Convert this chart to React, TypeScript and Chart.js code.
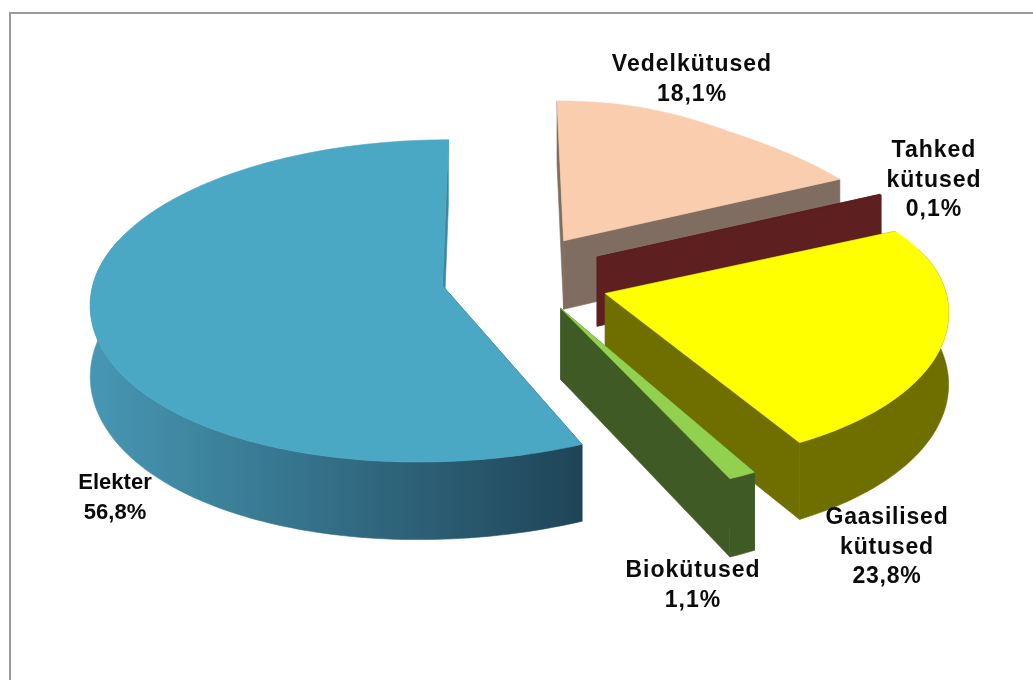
import React, { useEffect, useRef } from "react";
import { Chart, registerables } from "chart.js";

Chart.register(...registerables);

// Energy use by source, percent
const categories = ["Vedelkütused", ["Tahked", "kütused"], ["Gaasilised", "kütused"], "Biokütused", "Elekter"];
const shares = [18.1, 0.1, 23.8, 1.1, 56.8];
const explode = [86, 85, 84, 68, 58];
const topColours = ["#f9cdad", "#5e1f20", "#ffff00", "#92d050", "#4aa8c4"];
const wallLight = ["#7f6d62", "#5e1f20", "#6f6f00", "#3f5a24", "#4797b4"];
const wallDark = ["#7f6d62", "#5e1f20", "#6f6f00", "#3f5a24", "#1f4457"];

// Per-slice look of the exploded pie
const explodeTurn = [0, -4.3, 0, -11.5, 0];
const sliceScale = [1, 1, 0.96, 1.03, 0.99];
const sliceSkew = [0, 0, 0.03, -0.015, -0.045];

const labelCentres = [
  [692, 65],
  [934, 151],
  [887, 518],
  [693, 571],
  [115, 483],
];
const labelSizes = [23, 23, 23, 23, 22];
const labelTracking = [1, 1, 0.8, 1, 0];

// Oblique view of the pie plane
const VIEW = { cx: 510, cy: 279, ax: 352, ay: 160, depth: 70, persp: 0.095, backRight: 0.145 };

function project(nx: number, ny: number, d: number): [number, number] {
  const s = 1 / (1 - ny * VIEW.persp);
  // The far right of the pie recedes a little faster than the rest
  const back = Math.min(0, ny);
  const reach = Math.max(0, Math.min(1, nx / 0.8));
  const g = 1 - VIEW.backRight * back * back * reach;
  return [VIEW.cx + nx * VIEW.ax * s * g, VIEW.cy + (ny * VIEW.ay + d * VIEW.depth) * s];
}

function trace(ctx: CanvasRenderingContext2D, pts: [number, number][]) {
  ctx.beginPath();
  pts.forEach((p, i) => (i ? ctx.lineTo(p[0], p[1]) : ctx.moveTo(p[0], p[1])));
  ctx.closePath();
}

function paint(ctx: CanvasRenderingContext2D, pts: [number, number][], fill: string | CanvasGradient) {
  trace(ctx, pts);
  ctx.fillStyle = fill;
  ctx.strokeStyle = fill;
  ctx.lineWidth = 0.6;
  ctx.fill();
  ctx.stroke();
}

const extrudedPie = {
  id: "extrudedPie",
  beforeDraw(chart: any) {
    const { ctx } = chart;
    ctx.save();
    ctx.fillStyle = "#ffffff";
    ctx.fillRect(0, 0, chart.width, chart.height);
    ctx.strokeStyle = "#9a9a9a";
    ctx.lineWidth = 2;
    ctx.beginPath();
    ctx.moveTo(chart.width, 13);
    ctx.lineTo(10, 13);
    ctx.lineTo(10, chart.height);
    ctx.stroke();
    ctx.restore();
  },
  beforeDatasetDraw(chart: any) {
    const { ctx } = chart;
    const arcs = chart.getDatasetMeta(0).data;
    ctx.save();
    arcs.forEach((arc: any, i: number) => {
      const { startAngle, endAngle, outerRadius } = arc.getProps(["startAngle", "endAngle", "outerRadius"], true);
      const mid = (startAngle + endAngle) / 2 + (explodeTurn[i] * Math.PI) / 180;
      const off = (arc.options.offset || 0) / outerRadius;
      const ox = Math.cos(mid) * off;
      const oy = Math.sin(mid) * off;
      const r = sliceScale[i];
      const rim = (a: number, d: number) => {
        const ly = Math.sin(a) * r;
        const skew = ly > 0 ? sliceSkew[i] * ly * ly : 0;
        return project(ox + Math.cos(a) * r + skew, oy + ly, d);
      };
      const apex = (d: number) => project(ox, oy, d);
      const steps = Math.max(2, Math.ceil((endAngle - startAngle) / 0.02));
      const angles: number[] = [];
      for (let k = 0; k <= steps; k++) angles.push(startAngle + ((endAngle - startAngle) * k) / steps);

      const xs = angles.map((a) => rim(a, 0)[0]);
      const grad = ctx.createLinearGradient(Math.min(...xs), 0, Math.max(...xs) + 0.01, 0);
      grad.addColorStop(0, wallLight[i]);
      grad.addColorStop(1, wallDark[i]);

      // Radial cut faces
      paint(ctx, [apex(0), rim(startAngle, 0), rim(startAngle, 1), apex(1)], wallDark[i]);
      paint(ctx, [apex(0), rim(endAngle, 0), rim(endAngle, 1), apex(1)], i === 4 ? "#3f86a3" : wallDark[i]);

      // Outer curved wall, only on the part turned to the viewer
      const front = angles.filter((a) => Math.sin(a) > -0.3);
      if (front.length > 1) {
        const strip = [
          ...front.map((a) => rim(a, 0)),
          ...front.slice().reverse().map((a) => rim(a, 1)),
        ];
        paint(ctx, strip, grad);
      }

      // Top face
      paint(ctx, [apex(0), ...angles.map((a) => rim(a, 0))], arc.options.backgroundColor);
    });
    ctx.restore();
    return false;
  },
  afterDatasetsDraw(chart: any) {
    const { ctx } = chart;
    ctx.save();
    ctx.fillStyle = "#0b0b0b";
    ctx.textAlign = "center";
    ctx.textBaseline = "middle";
    chart.data.labels.forEach((label: string | string[], i: number) => {
      ctx.font = `bold ${labelSizes[i]}px "Liberation Sans", Arial, sans-serif`;
      ctx.letterSpacing = `${labelTracking[i]}px`;
      const value = chart.data.datasets[0].data[i].toFixed(1).replace(".", ",") + "%";
      const lines = [...(Array.isArray(label) ? label : [label]), value];
      const [x, y] = labelCentres[i];
      lines.forEach((line, k) => ctx.fillText(line, x, y + k * 29.5));
    });
    ctx.restore();
  },
};

export default function App() {
  const ref = useRef<HTMLCanvasElement>(null);
  useEffect(() => {
    const chart = new Chart(ref.current as HTMLCanvasElement, {
      type: "pie",
      data: {
        labels: categories as any,
        datasets: [{ data: shares, backgroundColor: topColours, offset: explode, borderWidth: 0 }],
      },
      options: {
        animation: false,
        responsive: false,
        events: [],
        plugins: { legend: { display: false }, tooltip: { enabled: false } },
      },
      plugins: [extrudedPie],
    });
    return () => chart.destroy();
  }, []);
  return (
    <div style={{ position: "fixed", left: 0, top: 0, width: 1033, height: 680 }}>
      <canvas ref={ref} width={1033} height={680} style={{ display: "block" }} />
    </div>
  );
}
